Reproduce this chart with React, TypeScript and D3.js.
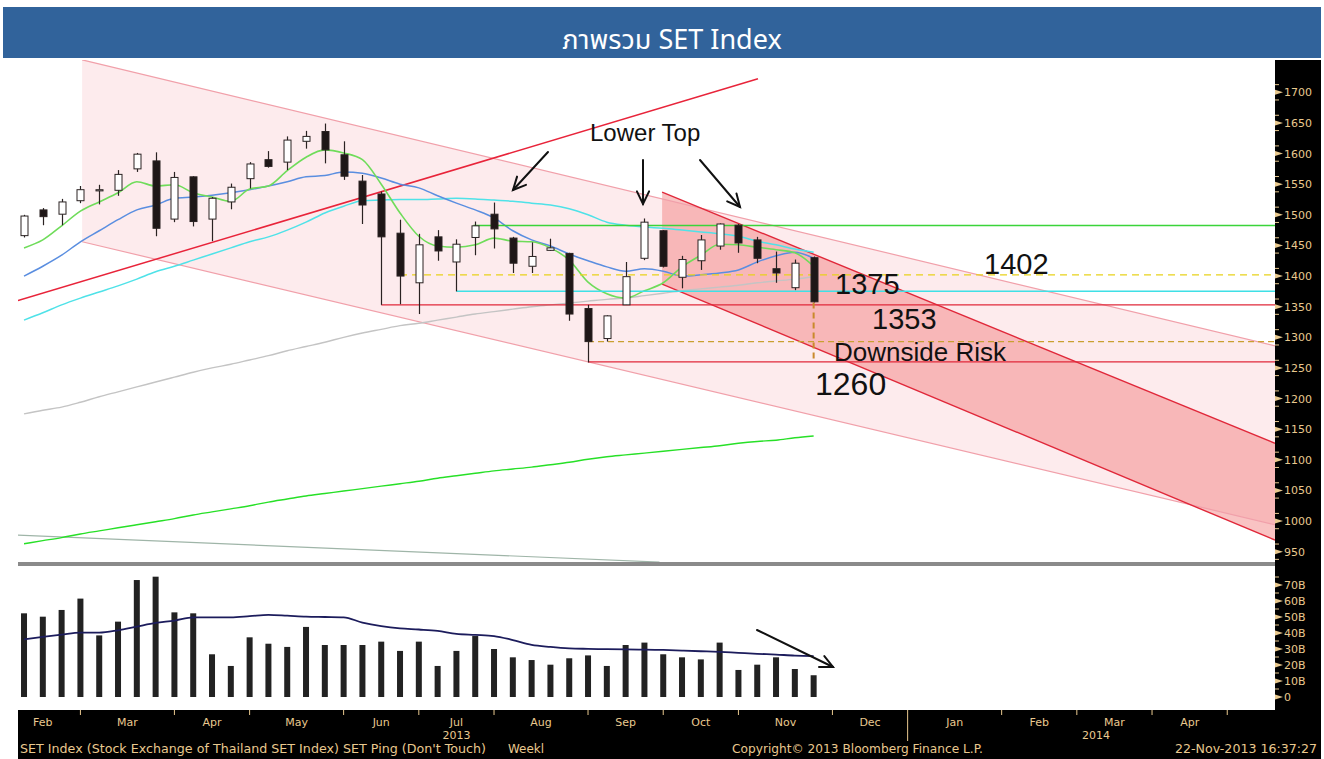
import React from "react";
import * as d3 from "d3";

// weekly bars, week ending Friday (2013)
const weekEnding = [
  "01 Feb", "08 Feb", "15 Feb", "22 Feb", "01 Mar", "08 Mar", "15 Mar", "22 Mar", "29 Mar",
  "05 Apr", "12 Apr", "19 Apr", "26 Apr", "03 May", "10 May", "17 May", "24 May", "31 May",
  "07 Jun", "14 Jun", "21 Jun", "28 Jun", "05 Jul", "12 Jul", "19 Jul", "26 Jul",
  "02 Aug", "09 Aug", "16 Aug", "23 Aug", "30 Aug", "06 Sep", "13 Sep", "20 Sep", "27 Sep",
  "04 Oct", "11 Oct", "18 Oct", "25 Oct", "01 Nov", "08 Nov", "15 Nov", "22 Nov",
];

const openPx = [1466, 1508, 1501, 1523, 1540, 1540, 1575, 1588, 1493, 1562, 1493, 1521, 1559, 1590, 1586, 1620, 1636, 1598, 1555, 1534, 1470, 1389, 1464, 1423, 1463, 1501, 1462, 1416, 1442, 1437, 1347, 1298, 1353, 1429, 1474, 1398, 1425, 1449, 1483, 1459, 1412, 1381, 1430];
const highPx = [1500, 1511, 1526, 1547, 1549, 1573, 1601, 1602, 1570, 1563, 1529, 1551, 1586, 1604, 1628, 1637, 1649, 1620, 1565, 1538, 1492, 1469, 1475, 1460, 1489, 1520, 1464, 1455, 1461, 1438, 1353, 1336, 1423, 1494, 1475, 1433, 1467, 1486, 1485, 1464, 1440, 1427, 1432];
const lowPx = [1463, 1483, 1483, 1519, 1517, 1531, 1570, 1465, 1488, 1481, 1457, 1509, 1543, 1577, 1573, 1608, 1584, 1557, 1485, 1353, 1354, 1338, 1425, 1375, 1434, 1445, 1405, 1405, 1441, 1327, 1259, 1293, 1353, 1426, 1414, 1380, 1410, 1443, 1438, 1421, 1389, 1377, 1357];
const closePx = [1498, 1497, 1521, 1541, 1541, 1566, 1599, 1478, 1561, 1489, 1527, 1545, 1583, 1579, 1622, 1628, 1606, 1563, 1516, 1464, 1400, 1451, 1441, 1452, 1482, 1477, 1421, 1432, 1446, 1338, 1293, 1335, 1399, 1488, 1416, 1427, 1459, 1485, 1454, 1429, 1405, 1421, 1358];

// moving averages as shown on the chart
const maShort = [1446, 1459, 1482, 1506, 1521, 1536, 1554, 1547, 1549, 1536, 1529, 1522, 1542, 1547, 1572, 1594, 1606, 1601, 1590, 1550, 1503, 1465, 1449, 1447, 1451, 1462, 1457, 1456, 1446, 1426, 1390, 1371, 1364, 1376, 1389, 1415, 1434, 1452, 1451, 1447, 1443, 1438, 1416];
const maMid = [1400, 1416, 1434, 1456, 1474, 1492, 1508, 1516, 1527, 1529, 1532, 1536, 1541, 1547, 1554, 1562, 1564, 1570, 1568, 1560, 1550, 1544, 1531, 1519, 1508, 1495, 1474, 1459, 1449, 1436, 1425, 1415, 1408, 1412, 1408, 1400, 1402, 1405, 1410, 1423, 1433, 1439, 1429];
const maLong = [1328, 1340, 1353, 1364, 1374, 1384, 1395, 1407, 1416, 1426, 1436, 1446, 1456, 1464, 1475, 1488, 1503, 1514, 1523, 1524, 1525, 1525, 1526, 1527, 1526, 1524, 1522, 1519, 1516, 1510, 1500, 1488, 1483, 1480, 1478, 1475, 1472, 1469, 1465, 1457, 1451, 1444, 1439];
const ma50 = [1175, 1181, 1186, 1194, 1203, 1211, 1219, 1227, 1235, 1243, 1250, 1256, 1263, 1270, 1278, 1285, 1292, 1300, 1307, 1313, 1319, 1323, 1328, 1333, 1338, 1342, 1346, 1350, 1353, 1356, 1359, 1362, 1364, 1368, 1372, 1376, 1379, 1382, 1385, 1389, 1392, 1395, 1399];
const ma200 = [963, 968, 973, 979, 984, 989, 994, 999, 1004, 1010, 1015, 1020, 1025, 1031, 1036, 1041, 1045, 1049, 1053, 1057, 1061, 1065, 1070, 1074, 1078, 1082, 1085, 1088, 1092, 1096, 1101, 1105, 1108, 1111, 1114, 1117, 1120, 1123, 1127, 1130, 1132, 1136, 1139];

// volume in billions
const volumeB = [52.3, 50.2, 54.4, 61.5, 38.5, 47.1, 73.1, 75.2, 52.9, 52.3, 26.7, 19.4, 37.3, 33.3, 31.3, 43.8, 32.5, 32.5, 32.5, 34.6, 28.8, 34.6, 19.4, 28.8, 38.1, 30, 24.8, 23.1, 20.2, 24.2, 26, 19.4, 32.5, 34, 26.7, 24.8, 23.5, 34, 16.9, 20.2, 24.8, 17.5, 13.6];
const volumeMa = [36, 37.6, 39, 40.2, 40.2, 41.7, 44, 46.3, 47.8, 49.8, 49.8, 49.8, 50.5, 51.3, 50.8, 50.2, 50, 49.8, 46.5, 44.3, 42.9, 42.2, 41.3, 39.4, 38.8, 38.1, 35.6, 32.6, 31.3, 30.4, 30.1, 29.9, 29.8, 29.6, 29.4, 29, 28.6, 28.2, 27.6, 27, 26.5, 25.9, 25.6];

const monthNames = ["Feb", "Mar", "Apr", "May", "Jun", "Jul", "Aug", "Sep", "Oct", "Nov", "Dec", "Jan", "Feb", "Mar", "Apr"];
const monthEdges = [-1, 3, 8, 12, 17, 21, 25, 30, 34, 38, 43, 47, 52, 56, 60, 64];
const priceTicks = d3.range(950, 1701, 50);
const volumeTicks = [0, 10, 20, 30, 40, 50, 60, 70];

// drawn studies: [week index, price]
const upTrend: [number, number][] = [[-0.32, 1360], [39.04, 1722]];
const fadedLine: [number, number][] = [[-0.32, 977], [33.8, 933]];
const wideTop: [number, number][] = [[3.09, 1753], [66.54, 1286]];
const wideBottom: [number, number][] = [[3.09, 1456], [66.54, 994]];
const narrowTop: [number, number][] = [[33.94, 1537], [66.54, 1127]];
const narrowBottom: [number, number][] = [[33.94, 1387], [66.54, 969]];

const levels = [
  { price: 1482.5, from: 23.9, color: "#3ad43a", dash: "", w: 1.5 },
  { price: 1402, from: 20, color: "#e8d21a", dash: "7,5", w: 1.3 },
  { price: 1375, from: 23, color: "#3fe0e6", dash: "", w: 1.5 },
  { price: 1353, from: 19, color: "#e0283a", dash: "", w: 1.3 },
  { price: 1293, from: 30, color: "#c9a030", dash: "6,4", w: 1.2 },
  { price: 1260, from: 30, color: "#e0283a", dash: "", w: 1.3 },
];

const W = 1324;
const H = 759;
const tan = "#e9c98f";

const x = d3.scaleLinear().domain([-0.32, 66.54]).range([18, 1275]);
const y = d3.scaleLinear().domain([950, 1700]).range([551.7, 92.3]);
const yv = d3.scaleLinear().domain([0, 70]).range([697, 585]);

const maLine = d3.line<number>().x((_, i) => x(i)).y((d) => y(d)).curve(d3.curveMonotoneX);
const volLine = d3.line<number>().x((_, i) => x(i)).y((d) => yv(d)).curve(d3.curveMonotoneX);
const seg = d3.line<[number, number]>().x((d) => x(d[0])).y((d) => y(d[1]));

const band = (top: [number, number][], bottom: [number, number][]) =>
  seg([...top, ...bottom.slice().reverse()]) + "Z";

const Arrow = ({ x1, y1, x2, y2 }: { x1: number; y1: number; x2: number; y2: number }) => {
  const a = Math.atan2(y2 - y1, x2 - x1);
  const L = 14;
  const p1 = [x2 - L * Math.cos(a - 0.45), y2 - L * Math.sin(a - 0.45)];
  const p2 = [x2 - L * Math.cos(a + 0.45), y2 - L * Math.sin(a + 0.45)];
  return (
    <g stroke="#111" strokeWidth={2} fill="none" strokeLinecap="round">
      <line x1={x1} y1={y1} x2={x2} y2={y2} />
      <polyline points={`${p1[0]},${p1[1]} ${x2},${y2} ${p2[0]},${p2[1]}`} />
    </g>
  );
};

const Candle = ({ i }: { i: number }) => {
  const up = closePx[i] >= openPx[i];
  const top = y(Math.max(openPx[i], closePx[i]));
  const bot = y(Math.min(openPx[i], closePx[i]));
  const cx = Math.round(x(i)) + 0.5;
  return (
    <g>
      <line x1={cx} x2={cx} y1={y(highPx[i])} y2={y(lowPx[i])} stroke="#2a2222" strokeWidth={1.2} />
      <rect
        x={cx - 3.5}
        y={top}
        width={7}
        height={Math.max(bot - top, 1.2)}
        fill={up ? "#fff" : "#1e1717"}
        stroke="#2a2222"
        strokeWidth={1}
      />
    </g>
  );
};

export default function App() {
  return (
    <svg width={W} height={H} style={{ position: "absolute", left: 0, top: 0, display: "block" }} fontFamily="'DejaVu Sans', sans-serif">
      <defs>
        <clipPath id="plot">
          <rect x={18} y={60} width={1257} height={502} />
        </clipPath>
      </defs>
      <rect width={W} height={H} fill="#fff" />

      {/* title */}
      <rect x={3} y={7} width={1318} height={51} fill="#31639b" />
      <text x={672} y={49} textAnchor="middle" fill="#fff" fontSize={27} fontFamily="'Noto Sans', 'Noto Sans Thai', sans-serif">
        ภาพรวม SET Index
      </text>

      {/* price pane */}
      <g clipPath="url(#plot)">
        <path d={band(wideTop, wideBottom)} fill="#fdebed" />
        <path d={band(narrowTop, narrowBottom)} fill="#f07070" fillOpacity={0.42} />
        <path d={seg(wideTop) ?? ""} stroke="#f1a0aa" strokeWidth={1.2} fill="none" />
        <path d={seg(wideBottom) ?? ""} stroke="#f1a0aa" strokeWidth={1.2} fill="none" />
        <path d={seg(narrowTop) ?? ""} stroke="#e0283a" strokeWidth={1.4} fill="none" />
        <path d={seg(narrowBottom) ?? ""} stroke="#e0283a" strokeWidth={1.4} fill="none" />
        <path d={seg(upTrend) ?? ""} stroke="#e8243a" strokeWidth={1.5} fill="none" />
        <path d={seg(fadedLine) ?? ""} stroke="#9fb5a8" strokeWidth={1.2} fill="none" />

        <path d={maLine(ma200) ?? ""} stroke="#27e027" strokeWidth={1.4} fill="none" />
        <path d={maLine(ma50) ?? ""} stroke="#c4c4c4" strokeWidth={1.4} fill="none" />
        <path d={maLine(maLong) ?? ""} stroke="#4fe2e8" strokeWidth={1.5} fill="none" />
        <path d={maLine(maMid) ?? ""} stroke="#5a8ee0" strokeWidth={1.5} fill="none" />
        <path d={maLine(maShort) ?? ""} stroke="#6fdc5a" strokeWidth={1.6} fill="none" />

        {levels.map((l, k) => (
          <line key={k} x1={x(l.from)} x2={1275} y1={y(l.price)} y2={y(l.price)} stroke={l.color} strokeWidth={l.w} strokeDasharray={l.dash || undefined} />
        ))}
        <line x1={x(42)} x2={x(42)} y1={y(lowPx[42])} y2={y(1260)} stroke="#c98a2c" strokeWidth={2} strokeDasharray="6,4" />

        {weekEnding.map((_, i) => (
          <Candle key={i} i={i} />
        ))}
      </g>

      {/* annotations */}
      <text x={590} y={141} fontSize={24} fontFamily="'Liberation Sans', Arial, sans-serif" fill="#111">Lower Top</text>
      <Arrow x1={548} y1={152} x2={513} y2={190} />
      <Arrow x1={643} y1={160} x2={643} y2={204} />
      <Arrow x1={700} y1={160} x2={740} y2={207} />
      <g fontFamily="'Liberation Sans', Arial, sans-serif" fill="#111">
        <text x={835} y={294} fontSize={29}>1375</text>
        <text x={984} y={274} fontSize={29}>1402</text>
        <text x={872} y={329} fontSize={29}>1353</text>
        <text x={834} y={361} fontSize={26}>Downside Risk</text>
        <text x={815} y={395} fontSize={32}>1260</text>
      </g>

      {/* separator */}
      <rect x={18} y={562} width={1257} height={4} fill="#8a8a8a" />

      {/* volume pane */}
      {volumeB.map((v, i) => (
        <rect key={i} x={x(i) - 3} y={yv(v)} width={6} height={yv(0) - yv(v)} fill="#222" />
      ))}
      <path d={volLine(volumeMa) ?? ""} stroke="#1c1c5c" strokeWidth={1.8} fill="none" />
      <Arrow x1={757} y1={630} x2={833} y2={667} />

      {/* right axis */}
      <rect x={1275} y={60} width={46} height={650} fill="#000" />
      {d3.range(937.5, 1725, 25).map((p) => (
        <line key={"m" + p} x1={1275} x2={1279} y1={y(p)} y2={y(p)} stroke={tan} strokeWidth={1} />
      ))}
      {priceTicks.map((p) => (
        <g key={p}>
          <polygon points={`1275,${y(p) - 2.5} 1283,${y(p)} 1275,${y(p) + 2.5}`} fill={tan} />
          <text x={1284} y={y(p) + 4} fontSize={11} fill={tan}>{p}</text>
        </g>
      ))}
      {d3.range(5, 80, 10).map((v) => (
        <line key={"vm" + v} x1={1275} x2={1279} y1={yv(v)} y2={yv(v)} stroke={tan} strokeWidth={1} />
      ))}
      {volumeTicks.map((v) => (
        <g key={"v" + v}>
          <polygon points={`1275,${yv(v) - 2.5} 1283,${yv(v)} 1275,${yv(v) + 2.5}`} fill={tan} />
          <text x={1284} y={yv(v) + 4} fontSize={11} fill={tan}>{v === 0 ? "0" : `${v}B`}</text>
        </g>
      ))}

      {/* bottom axis */}
      <rect x={18} y={710} width={1303} height={49} fill="#000" />
      {monthEdges.slice(1).map((e) => (
        <line key={"t" + e} x1={x(e)} x2={x(e)} y1={710} y2={e === 47 ? 741 : 715} stroke={tan} strokeWidth={1} />
      ))}
      {monthNames.map((m, k) => (
        <text key={k} x={x((monthEdges[k] + monthEdges[k + 1]) / 2)} y={726} textAnchor="middle" fontSize={11} fill={tan}>{m}</text>
      ))}
      <text x={x(23)} y={739} textAnchor="middle" fontSize={11} fill={tan}>2013</text>
      <text x={1096} y={739} textAnchor="middle" fontSize={11} fill={tan}>2014</text>

      <g fontSize={11.5} fill={tan}>
        <text x={20} y={753} textLength={466} lengthAdjust="spacingAndGlyphs">SET Index (Stock Exchange of Thailand SET Index) SET Ping (Don't Touch)</text>
        <text x={508} y={753} textLength={36} lengthAdjust="spacingAndGlyphs">Weekl</text>
        <text x={732} y={753} textLength={251} lengthAdjust="spacingAndGlyphs">Copyright© 2013 Bloomberg Finance L.P.</text>
        <text x={1175} y={753} textLength={142} lengthAdjust="spacingAndGlyphs">22-Nov-2013 16:37:27</text>
      </g>
    </svg>
  );
}
